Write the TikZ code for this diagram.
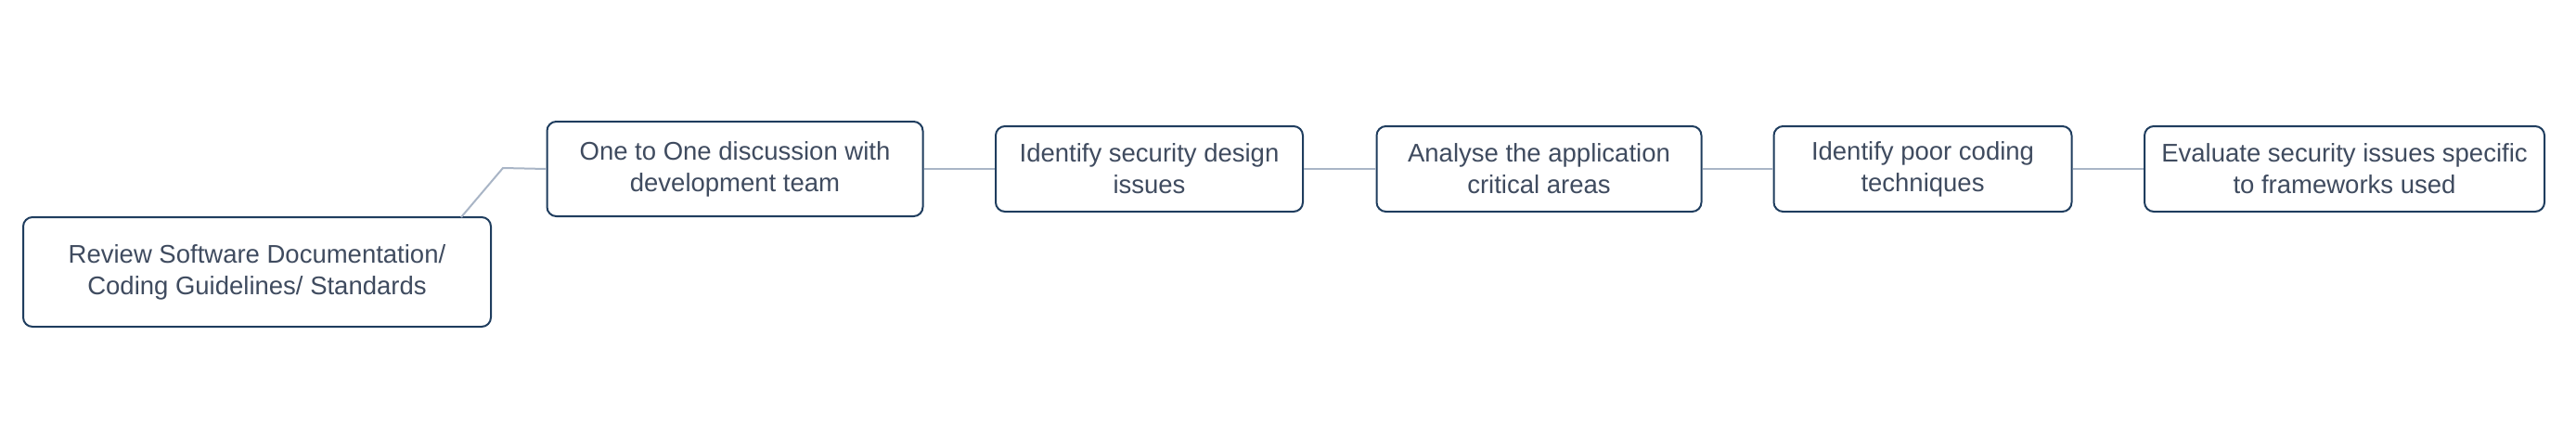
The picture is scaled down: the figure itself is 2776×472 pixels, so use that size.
\documentclass[tikz,border=0pt]{standalone}
\usepackage{fontspec}
\setmainfont{Liberation Sans}
\definecolor{txt}{HTML}{3F4B5F}
\definecolor{bord}{HTML}{1F3D5E}
\definecolor{conn}{HTML}{A9B5C6}
\tikzset{
  stepbox/.style={draw=bord, line width=2pt, rounded corners=10pt, fill=white,
    inner sep=0pt, align=center, text=txt,
    font=\fontsize{27.5}{34}\selectfont},
  link/.style={draw=conn, line width=2pt}
}
\begin{document}
\begin{tikzpicture}[x=1pt,y=-1pt]
\useasboundingbox (0,0) rectangle (2776,472);
\node[stepbox, minimum width=504pt, minimum height=118pt] (A) at (277,293)
  {Review Software Documentation/\\Coding Guidelines/ Standards};
\node[stepbox, minimum width=405pt, minimum height=102pt] (B) at (792,182)
  {One to One discussion with\\development team};
\node[stepbox, minimum width=331pt, minimum height=92pt] (C) at (1238.5,182)
  {Identify security design\\issues};
\node[stepbox, minimum width=350pt, minimum height=92pt] (D) at (1658.5,182)
  {Analyse the application\\critical areas};
\node[stepbox, minimum width=321pt, minimum height=92pt] (E) at (2072,182)
  {Identify poor coding\\techniques};
\node[stepbox, minimum width=431pt, minimum height=92pt] (F) at (2526.5,182)
  {Evaluate security issues specific\\to frameworks used};
\coordinate (a1) at (497,234);
\coordinate (j) at (542,181);
\draw[link] (a1) -- (j) -- (B.west);
\draw[link] (B.east) -- (C.west);
\draw[link] (C.east) -- (D.west);
\draw[link] (D.east) -- (E.west);
\draw[link] (E.east) -- (F.west);
\end{tikzpicture}
\end{document}
